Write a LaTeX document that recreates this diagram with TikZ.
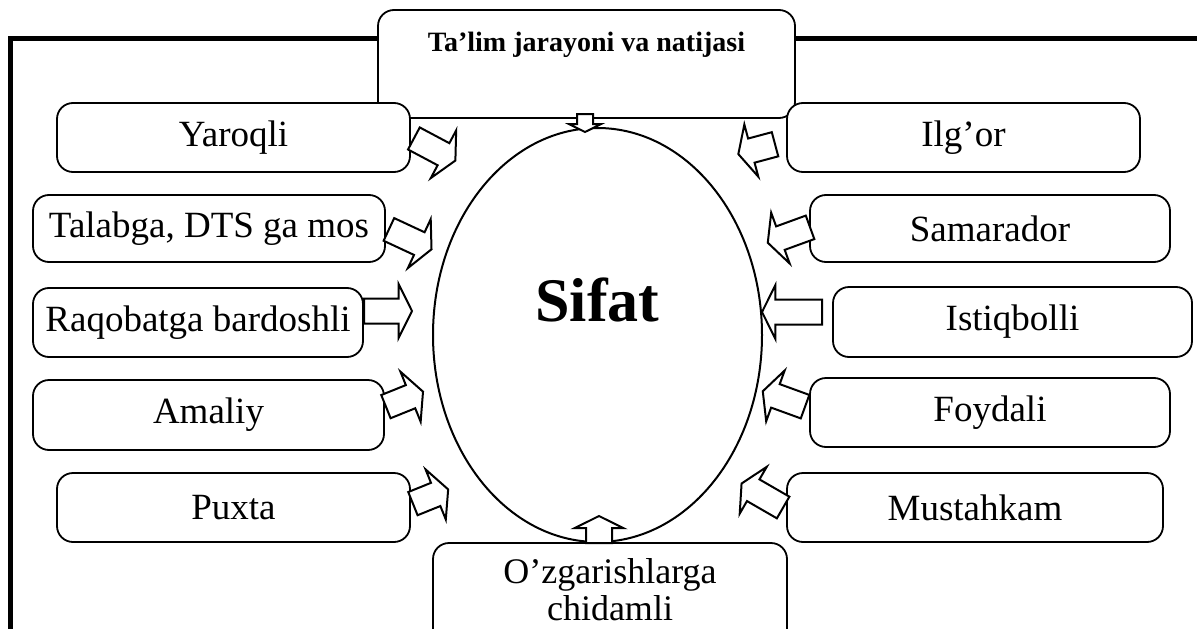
\documentclass[tikz,border=0pt]{standalone}
\usepackage{fontspec}
\setmainfont{Liberation Serif}
\usetikzlibrary{shapes.arrows,shapes.geometric}
\tikzset{
  box/.style={draw, line width=1.8pt, rounded corners=16pt, fill=white, inner sep=0pt, align=center},
  lbl/.style={font=\fontsize{37}{40}\selectfont},
  blk/.style={single arrow, draw, line width=2pt, fill=white, inner xsep=0pt, inner ysep=11.5pt,
    minimum width=0pt, single arrow head extend=14.5pt, single arrow tip angle=127,
    single arrow head indent=0pt, anchor=tail},
}
\begin{document}
\begin{tikzpicture}[x=1pt,y=-1pt]
\useasboundingbox (0,0) rectangle (1197,629);
% frame
\draw[line width=4.5pt, line join=miter] (10.5,640) -- (10.5,38.5) -- (1205,38.5);
% central ellipse
\node[draw, ellipse, line width=2pt, minimum width=329pt, minimum height=414pt, inner sep=0pt] (sifat) at (597.5,335) {};
\node[font=\bfseries\fontsize{62}{64}\selectfont] (sifattext) at (597.5,300) {Sifat};
% top box
\node[box, minimum width=417pt, minimum height=108pt] (top) at (586.5,64) {};
\node[font=\bfseries\fontsize{28}{30}\selectfont] (toptext) at (586.5,45) {Ta’lim jarayoni va natijasi};
% left boxes
\node[box, lbl, minimum width=353pt, minimum height=69pt] (yaroqli) at (233.5,137.5) {Yaroqli};
\node[box, lbl, minimum width=352pt, minimum height=67pt] (talabga) at (209,228.5) {Talabga, DTS ga mos};
\node[box, lbl, minimum width=330pt, minimum height=69pt] (raqobat) at (198,322.5) {Raqobatga bardoshli};
\node[box, lbl, minimum width=351pt, minimum height=70pt] (amaliy) at (208.5,415) {Amaliy};
\node[box, lbl, minimum width=353pt, minimum height=69pt] (puxta) at (233.5,507.5) {Puxta};
% right boxes
\node[box, lbl, minimum width=353pt, minimum height=69pt] (ilgor) at (963.5,137.5) {Ilg’or};
\node[box, lbl, minimum width=360pt, minimum height=67pt] (samarador) at (990,228.5) {Samarador};
\node[box, lbl, minimum width=359pt, minimum height=70pt] (istiqbolli) at (1012.5,322) {Istiqbolli};
\node[box, lbl, minimum width=360pt, minimum height=69pt] (foydali) at (990,412.5) {Foydali};
\node[box, lbl, minimum width=376pt, minimum height=69pt] (mustahkam) at (975,507.5) {Mustahkam};
% bottom box
\node[box, minimum width=354pt, minimum height=107pt] (bottom) at (610,596.5) {};
\node[font=\fontsize{36}{38}\selectfont, inner sep=0pt] (bottomtext1) at (610,575) {O’zgarishlarga};
\node[font=\fontsize{36}{38}\selectfont, inner sep=0pt] (bottomtext2) at (610,608) {chidamli};
% block arrows
\node[blk, inner ysep=7pt, single arrow head extend=8pt, minimum height=18pt, rotate=-90] (atop) at (585,113) {};
\node[blk, inner ysep=12pt, single arrow head extend=11.5pt, minimum height=27pt, rotate=90] (abottom) at (599,544) {};
\node[blk, minimum height=47pt, rotate=-28] (a1) at (413,138) {};
\node[blk, minimum height=47pt, rotate=-25] (a2) at (388,229) {};
\node[blk, minimum height=48pt, rotate=0] (a3) at (363,311) {};
\node[blk, minimum height=40pt, rotate=22] (a4) at (385,407) {};
\node[blk, minimum height=38pt, rotate=22] (a5) at (412,504) {};
\node[blk, minimum height=38pt, rotate=195] (b1) at (776,144) {};
\node[blk, minimum height=45pt, rotate=200] (b2) at (811,227) {};
\node[blk, minimum height=60pt, rotate=180] (b3) at (823,312) {};
\node[blk, minimum height=45pt, rotate=160] (b4) at (806,407) {};
\node[blk, minimum height=48pt, rotate=150] (b5) at (784,508) {};
\end{tikzpicture}
\end{document}
